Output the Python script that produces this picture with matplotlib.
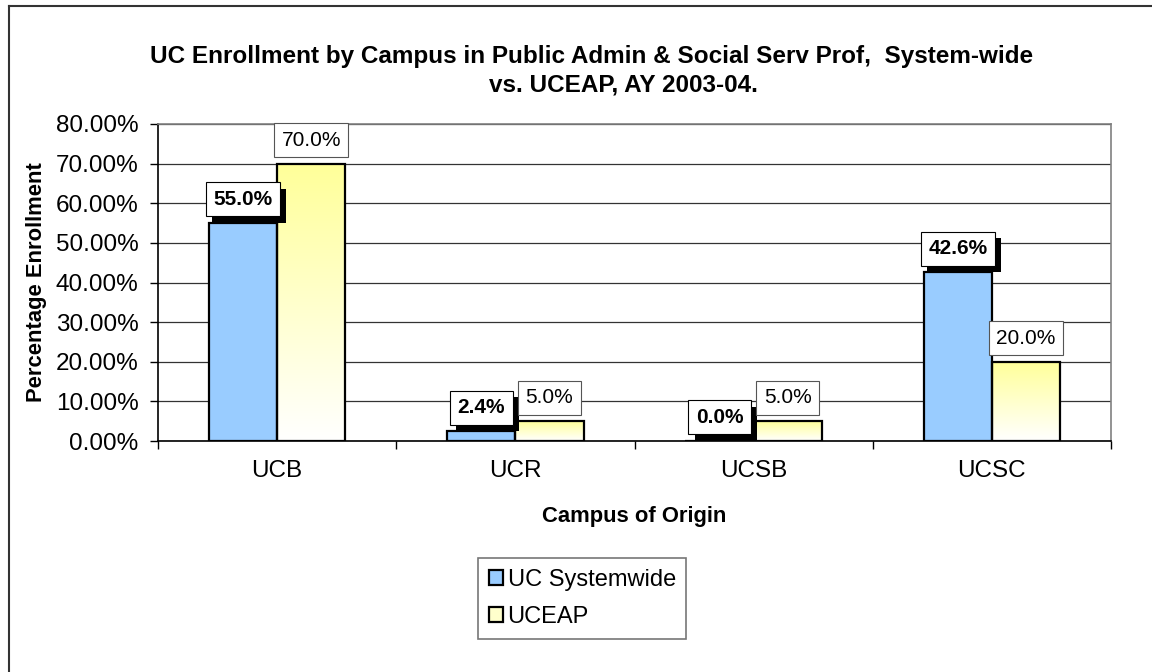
import numpy as np
import matplotlib
matplotlib.use('Agg')
import matplotlib.pyplot as plt
import matplotlib.patheffects as pe
from matplotlib.patches import Patch
from matplotlib.lines import Line2D

plt.rcParams['font.family'] = ['Liberation Sans', 'DejaVu Sans']

campuses = ['UCB', 'UCR', 'UCSB', 'UCSC']
systemwide = [55.0, 2.4, 0.0, 42.6]
uceap = [70.0, 5.0, 5.0, 20.0]
yticks = [0, 10, 20, 30, 40, 50, 60, 70, 80]

blue = '#99CCFF'
yellow = '#FFFF99'
W = 1152
H = 672

fig = plt.figure(figsize=(11.52, 6.72), dpi=100)
ax = fig.add_axes([158 / W, 1 - 441 / H, 953 / W, 317 / H])

x = np.arange(len(campuses))
bw = 0.286
ax.bar(x - bw / 2, systemwide, bw, color=blue, edgecolor='black', linewidth=1.6, zorder=3)
bars2 = ax.bar(x + bw / 2, uceap, bw, color='none', edgecolor='black', linewidth=1.6, zorder=4)

# yellow-to-white fill on the UCEAP bars
grad = np.linspace(0, 1, 256).reshape(-1, 1)
cmap = matplotlib.colors.LinearSegmentedColormap.from_list('yw', ['white', yellow])
for b in bars2:
    x0 = b.get_x()
    h = b.get_height()
    ax.imshow(grad, extent=[x0, x0 + bw, 0, h], origin='lower', cmap=cmap,
              aspect='auto', zorder=2, vmin=0, vmax=1)

ax.set_xlim(-0.5, len(campuses) - 0.5)
ax.set_ylim(0, 80)
ax.set_yticks(yticks)
ax.set_yticklabels([f'{v:.2f}%' for v in yticks])
ax.set_xticks(x)
ax.set_xticklabels(campuses)
ax.set_xticks(np.arange(len(campuses) + 1) - 0.5, minor=True)
ax.tick_params(axis='x', which='major', length=0, pad=14, labelsize=17.5)
ax.tick_params(axis='x', which='minor', length=6, width=1, color='black')
ax.tick_params(axis='y', length=6, width=1, pad=8, labelsize=17.5)
ax.yaxis.grid(True, color='#333333', linewidth=0.9, zorder=0)
ax.set_axisbelow(True)
for s in ['top', 'right']:
    ax.spines[s].set_color('#808080')
    ax.spines[s].set_linewidth(1.2)
for s in ['left', 'bottom']:
    ax.spines[s].set_color('black')
    ax.spines[s].set_linewidth(1.2)

ax.set_ylabel('Percentage Enrollment', fontsize=15.8, fontweight='bold', labelpad=6)
ax.set_xlabel('Campus of Origin', fontsize=15.8, fontweight='bold', labelpad=17)

# data labels (systemwide ones get a black drop shadow)
for i, v in enumerate(systemwide):
    xi = x[i] - bw / 2
    t = ax.annotate(f'{v:.1f}%', (xi, v), xytext=(0, 17), textcoords='offset points',
                    ha='center', va='center', fontsize=15, fontweight='bold',
                    bbox=dict(boxstyle='square,pad=0.36', fc='white', ec='black', lw=0.8), zorder=6)
    t.get_bbox_patch().set_path_effects([
        pe.SimplePatchShadow(offset=(4.5, -4.5), shadow_rgbFace='black', alpha=1.0),
        pe.Normal()])
for i, v in enumerate(uceap):
    xi = x[i] + bw / 2
    ax.annotate(f'{v:.1f}%', (xi, v), xytext=(0, 17), textcoords='offset points',
                ha='center', va='center', fontsize=15,
                bbox=dict(boxstyle='square,pad=0.36', fc='white', ec='#555555', lw=0.8), zorder=6)

fig.text(592 / W, 1 - 57 / H, 'UC Enrollment by Campus in Public Admin & Social Serv Prof,  System-wide',
         ha='center', va='center', fontsize=17.5, fontweight='bold')
fig.text(623 / W, 1 - 85 / H, 'vs. UCEAP, AY 2003-04.',
         ha='center', va='center', fontsize=17.5, fontweight='bold')

handles = [Patch(facecolor=blue, edgecolor='black', linewidth=1.6, label='UC Systemwide'),
           Patch(facecolor='#FFFFCC', edgecolor='black', linewidth=1.6, label='UCEAP')]
leg = fig.legend(handles=handles, loc='upper left', bbox_to_anchor=(478 / W, 1 - 558 / H),
                 fontsize=17, frameon=True, fancybox=False, handlelength=0.6,
                 handleheight=0.6, handletextpad=0.2, labelspacing=0.65,
                 borderpad=0.45, borderaxespad=0)
leg.get_frame().set_edgecolor('#555555')
leg.get_frame().set_linewidth(1.2)

# outer chart frame (cut by the image edges)
fig.add_artist(Line2D([9 / W, 1], [1 - 6 / H, 1 - 6 / H], color='#333333', lw=1.5))
fig.add_artist(Line2D([9 / W, 9 / W], [0, 1 - 6 / H], color='#333333', lw=1.5))

fig.savefig('out.png', dpi=100)
